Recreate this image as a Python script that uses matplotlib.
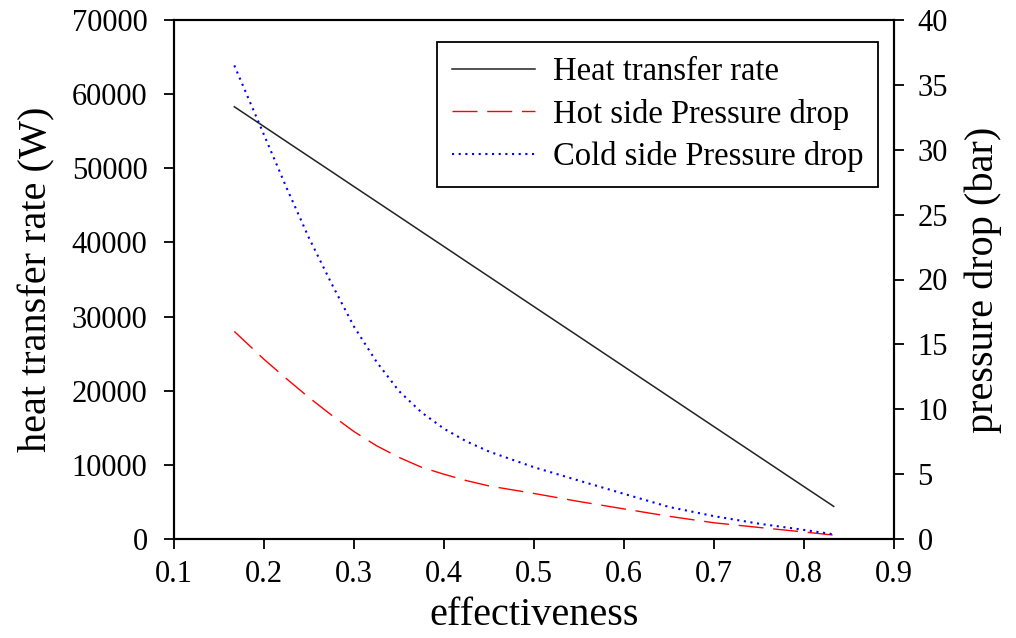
import numpy as np
import matplotlib.pyplot as plt

plt.rcParams['font.family'] = ['Liberation Serif', 'DejaVu Serif']

# effectiveness values
eff = [0.167, 0.2, 0.225, 0.25, 0.275, 0.3, 0.325, 0.35, 0.375, 0.4,
       0.425, 0.45, 0.5, 0.55, 0.6, 0.65, 0.7, 0.75, 0.8, 0.833]
heat_rate = [58300, 55630, 53600, 51580, 49560, 47530, 45510, 43490, 41460, 39440,
             37410, 35390, 31340, 27300, 23250, 19200, 15150, 11110, 7060, 4400]
hot_dp = [16.0, 13.85, 12.35, 10.9, 9.55, 8.28, 7.19, 6.29, 5.53, 4.99,
          4.50, 4.09, 3.51, 2.89, 2.32, 1.75, 1.25, 0.89, 0.54, 0.3]
cold_dp = [36.5, 31.15, 27.08, 23.2, 19.69, 16.37, 13.66, 11.40, 9.76, 8.50,
           7.52, 6.74, 5.53, 4.50, 3.48, 2.47, 1.76, 1.18, 0.70, 0.36]

xticks = [0.1, 0.2, 0.3, 0.4, 0.5, 0.6, 0.7, 0.8, 0.9]
yticks_left = [0, 10000, 20000, 30000, 40000, 50000, 60000, 70000]
yticks_right = [0, 5, 10, 15, 20, 25, 30, 35, 40]

fig = plt.figure(figsize=(10.16, 6.38), dpi=100)
ax = fig.add_axes([174/1016, 1-539/638, 720/1016, 519/638])
ax2 = ax.twinx()

l1, = ax.plot(eff, heat_rate, color='#222222', lw=1.1, label='Heat transfer rate')
l2, = ax2.plot(eff, hot_dp, color='red', lw=1.0, dashes=(18, 7), label='Hot side Pressure drop')
l3, = ax2.plot(eff, cold_dp, color='blue', lw=1.5, linestyle=(0, (1.0, 2.2)), label='Cold side Pressure drop')

ax.set_xlim(0.1, 0.9)
ax.set_ylim(0, 70000)
ax2.set_ylim(0, 40)
ax.set_xticks(xticks)
ax.set_yticks(yticks_left)
ax2.set_yticks(yticks_right)
ax.set_xticklabels([f"{v:g}" for v in xticks])

for a in (ax, ax2):
    for s in a.spines.values():
        s.set_linewidth(1.5)
    a.tick_params(direction='out', length=7, width=1.3, labelsize=22)
ax.tick_params(axis='y', pad=12)
ax.tick_params(axis='x', pad=8)
ax2.tick_params(axis='y', pad=10)

ax.set_xlabel('effectiveness', fontsize=29, labelpad=6)
ax.set_ylabel('heat transfer rate (W)', fontsize=29, labelpad=12)
ax2.set_ylabel('pressure drop (bar)', fontsize=29, labelpad=12)

leg = ax2.legend(handles=[l1, l2, l3], loc='upper right',
                 bbox_to_anchor=((878-174)/720, (539-42)/519), borderaxespad=0,
                 fontsize=23.5, handlelength=2.55, handletextpad=0.55, labelspacing=0.35,
                 borderpad=0.45, fancybox=False, framealpha=1, edgecolor='black')
leg.get_frame().set_linewidth(1.3)

fig.savefig('out.png', dpi=100)
